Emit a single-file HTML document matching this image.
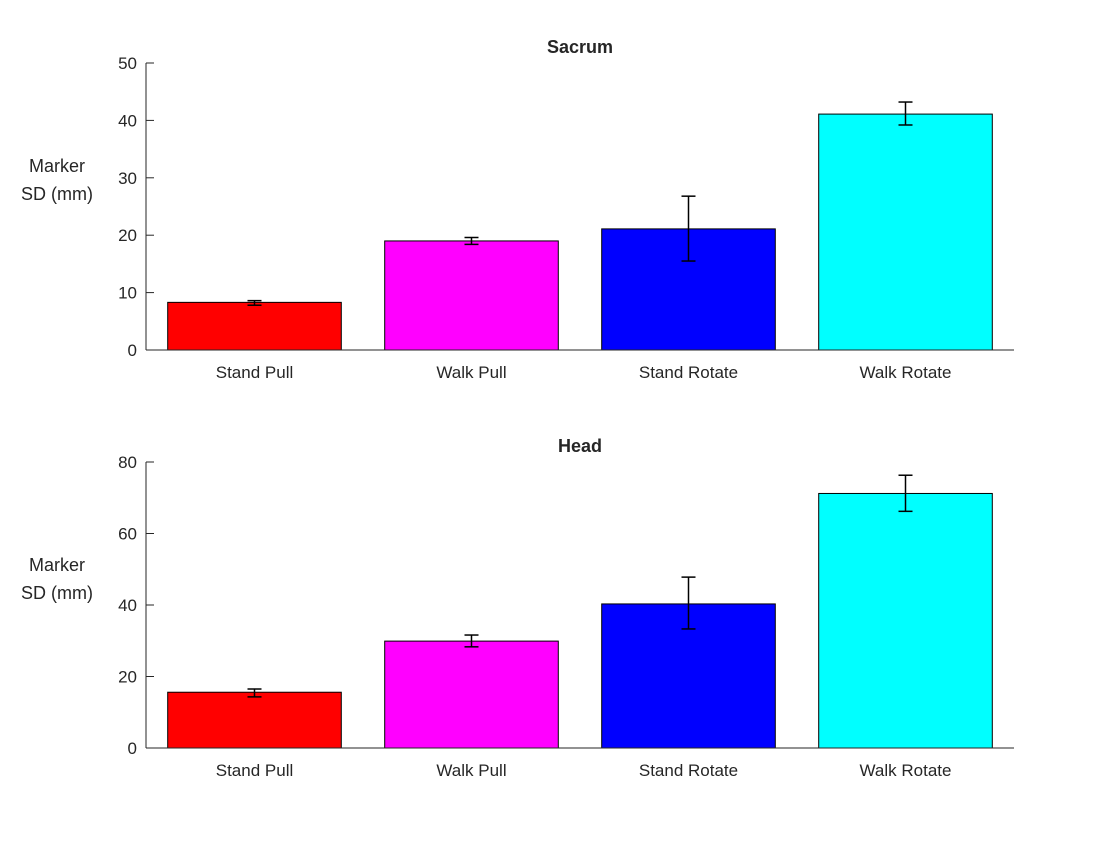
<!DOCTYPE html>
<html><head><meta charset="utf-8"><style>
body{margin:0;background:#fff}
svg text{font-family:"Liberation Sans",Arial,sans-serif;fill:#262626}
</style></head><body>
<svg id="chart" width="1120" height="840" viewBox="0 0 1120 840" xmlns="http://www.w3.org/2000/svg"></svg>
<script>
const categories = ["Stand Pull","Walk Pull","Stand Rotate","Walk Rotate"];
const colors = ["#ff0000","#ff00ff","#0000ff","#00ffff"];
const sacrumValues = [8.3, 19.0, 21.1, 41.1];
const sacrumErrLow = [7.8, 18.4, 15.5, 39.2];
const sacrumErrHigh = [8.6, 19.6, 26.8, 43.2];
const sacrumTicks = [0,10,20,30,40,50];
const headValues = [15.6, 29.9, 40.3, 71.2];
const headErrLow = [14.3, 28.3, 33.3, 66.2];
const headErrHigh = [16.5, 31.6, 47.8, 76.3];
const headTicks = [0,20,40,60,80];

const svg = document.getElementById('chart');
const NS = "http://www.w3.org/2000/svg";
function mk(tag, attrs, parent){const e=document.createElementNS(NS,tag);for(const k in attrs)e.setAttribute(k,attrs[k]);(parent||svg).appendChild(e);return e;}

function panel(name, title, vals, lo, hi, ticks, top, bottom){
  const g = mk('g',{});
  
  
  const x0=146,x1=1014,ymax=ticks[ticks.length-1];
  const y=v=>bottom-(v/ymax)*(bottom-top);
  const step=(x1-x0)/categories.length;
  const xc=i=>x0+step*(i+0.5);
  const bw=step*0.8;
  vals.forEach((v,i)=>{
    const r=mk('rect',{x:xc(i)-bw/2,y:y(v),width:bw,height:bottom-y(v),fill:colors[i],stroke:'#000','stroke-width':1},g);
    
    
  });
  vals.forEach((v,i)=>{
    const e=mk('g',{stroke:'#000','stroke-width':1.5},g);
    
    
    const c=xc(i);
    mk('line',{x1:c,x2:c,y1:y(lo[i]),y2:y(hi[i])},e);
    mk('line',{x1:c-7,x2:c+7,y1:y(lo[i]),y2:y(lo[i])},e);
    mk('line',{x1:c-7,x2:c+7,y1:y(hi[i]),y2:y(hi[i])},e);
  });
  const ax=mk('g',{stroke:'#262626','stroke-width':1},g);
  
  
  mk('line',{x1:x0,x2:x0,y1:top,y2:bottom},ax);
  mk('line',{x1:x0,x2:x1,y1:bottom,y2:bottom},ax);
  ticks.forEach(t=>{
    mk('line',{x1:x0,x2:x0+8,y1:y(t),y2:y(t)},ax);
    const tx=mk('text',{x:137,y:y(t)+6,'text-anchor':'end','font-size':17},g);
    tx.textContent=t;
    
    
  });
  categories.forEach((c,i)=>{
    const tx=mk('text',{x:xc(i),y:bottom+28,'text-anchor':'middle','font-size':17},g);
    tx.textContent=c;
    
    
  });
  const tt=mk('text',{x:580,y:top-10,'text-anchor':'middle','font-size':18,'font-weight':'bold'},g);
  tt.textContent=title;
  
  
  const yl=mk('text',{x:57,y:top+109,'text-anchor':'middle','font-size':18},g);
  
  
  const t1=mk('tspan',{x:57},yl);t1.textContent='Marker';
  const t2=mk('tspan',{x:57,dy:28},yl);t2.textContent='SD (mm)';
}
panel('sacrum','Sacrum',sacrumValues,sacrumErrLow,sacrumErrHigh,sacrumTicks,63,350);
panel('head','Head',headValues,headErrLow,headErrHigh,headTicks,462,748);
</script>
</body></html>
